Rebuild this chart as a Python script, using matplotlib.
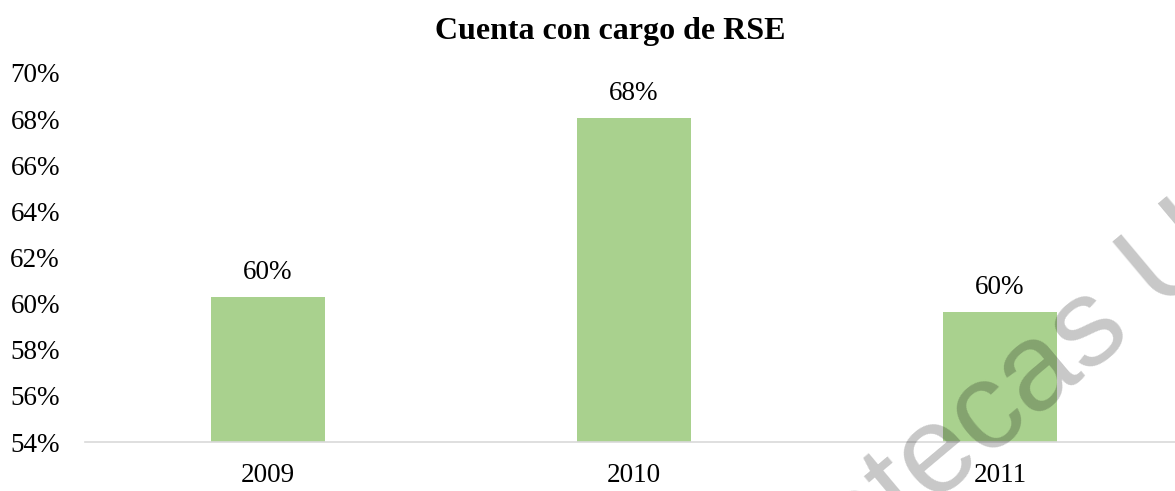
import matplotlib
matplotlib.use("Agg")
import matplotlib.pyplot as plt
from matplotlib.ticker import FuncFormatter

# datos
years = ["2009", "2010", "2011"]
values = [60.3, 68.05, 59.65]
yticks = [54, 56, 58, 60, 62, 64, 66, 68, 70]

plt.rcParams['font.family'] = ['Liberation Serif', 'DejaVu Serif']

fig = plt.figure(figsize=(11.75, 4.91), dpi=100)
ax = fig.add_axes([85 / 1175, 1 - 442 / 491, 1098 / 1175, (442 - 73) / 491])

x = range(len(years))
bars = ax.bar(x, values, width=0.314, color='#a9d18e', zorder=2)

for b, v in zip(bars, values):
    ax.annotate(f"{v:.0f}%", (b.get_x() + b.get_width() / 2, v),
                xytext=(0, 13), textcoords='offset points',
                ha='center', va='baseline', fontsize=19.5, color='black')

ax.set_xlim(-0.5, 2.5)
ax.set_ylim(54, 70)
ax.set_yticks(yticks)
ax.yaxis.set_major_formatter(FuncFormatter(lambda v, p: f"{v:.0f}%"))
ax.set_xticks(list(x))
ax.set_xticklabels(years)
ax.tick_params(axis='both', length=0, labelsize=19.5, colors='black')
ax.tick_params(axis='x', pad=15)
ax.tick_params(axis='y', pad=18)

for s in ['top', 'right', 'left']:
    ax.spines[s].set_visible(False)
ax.spines['bottom'].set_color('#d9d9d9')
ax.spines['bottom'].set_linewidth(1.2)

fig.text(610 / 1175, 1 - 32 / 491, "Cuenta con cargo de RSE", ha='center', va='center',
         fontsize=23, fontweight='bold')

# marca de agua
fig.text(0.853, 0.175, "Bibliotecas UAM", family=['Liberation Sans Narrow', 'Liberation Sans'],
         fontsize=90, rotation=40, rotation_mode='anchor', ha='center', va='center',
         color='black', alpha=0.22, zorder=5)

fig.savefig("out.png", dpi=100)
